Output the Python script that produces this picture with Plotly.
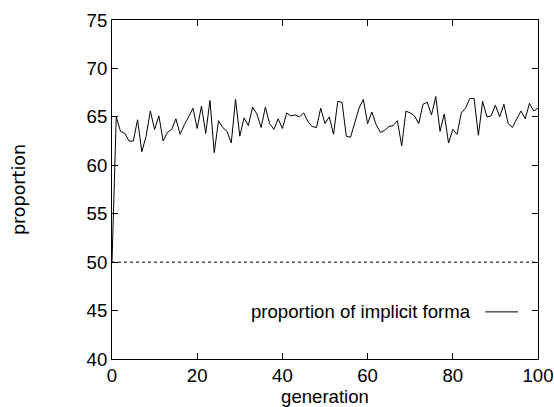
import plotly.graph_objects as go

generation = list(range(0, 101))
proportion = [
    50.0, 65.0, 63.5, 63.3, 62.5, 62.5, 64.7, 61.4, 63.0, 65.6,
    63.7, 65.1, 62.5, 63.4, 63.7, 64.8, 63.2, 64.2, 65.0, 65.9,
    63.8, 66.1, 63.3, 66.7, 61.3, 64.6, 63.9, 63.5, 62.3, 66.8,
    63.0, 64.9, 64.1, 66.0, 65.3, 63.9, 66.0, 64.3, 63.7, 64.8,
    63.8, 65.4, 65.1, 65.2, 65.0, 65.4, 64.5, 64.0, 63.9, 65.9,
    64.3, 65.0, 63.2, 66.6, 66.5, 63.0, 62.9, 64.5, 65.9, 66.8,
    64.3, 65.5, 64.2, 63.4, 63.6, 64.0, 64.1, 64.6, 62.0, 65.6,
    65.4, 65.1, 64.3, 66.3, 66.5, 65.2, 67.1, 63.5, 65.3, 62.3,
    63.7, 63.2, 65.4, 65.9, 66.9, 66.9, 63.1, 66.6, 65.0, 65.1,
    66.2, 65.0, 66.3, 64.3, 63.9, 64.8, 65.6, 64.8, 66.4, 65.6,
    65.9,
]
baseline = 50
x_ticks = [0, 20, 40, 60, 80, 100]
y_ticks = [40, 45, 50, 55, 60, 65, 70, 75]
legend_label = "proportion of implicit forma"

FONT = "Liberation Sans, Arial, Helvetica, sans-serif"
FS = 18.6

fig = go.Figure()
fig.add_trace(go.Scatter(
    x=generation, y=proportion, mode="lines",
    line=dict(color="black", width=1),
    showlegend=False, hoverinfo="skip",
))

fig.add_shape(type="line", xref="x", yref="y", x0=0, x1=100, y0=baseline, y1=baseline,
              line=dict(color="black", width=1, dash="dot"))

# key (gnuplot style: text then line sample)
fig.add_annotation(xref="paper", yref="paper", x=0.847, y=0.139, xanchor="right", yanchor="middle",
                   text=legend_label, showarrow=False, font=dict(family=FONT, size=FS, color="black"))
fig.add_shape(type="line", xref="paper", yref="paper", x0=0.876, x1=0.953, y0=0.139, y1=0.139,
              line=dict(color="black", width=1))

axis_common = dict(
    showline=True, linecolor="black", linewidth=1, mirror="ticks",
    ticks="inside", ticklen=6, tickcolor="black", tickwidth=1,
    showgrid=False, zeroline=False, automargin=False,
    tickfont=dict(family=FONT, size=FS, color="black"),
)

fig.update_xaxes(range=[0, 100], tickvals=x_ticks, ticktext=[str(v) for v in x_ticks],
                 title=dict(text="generation", font=dict(family=FONT, size=FS, color="black"), standoff=4),
                 **axis_common)
fig.update_yaxes(range=[40, 75], tickvals=y_ticks, ticktext=[str(v) for v in y_ticks],
                 title=dict(text="proportion", font=dict(family="DejaVu Sans, sans-serif", size=17.5, color="black"),
                            standoff=56),
                 **axis_common)

fig.update_layout(
    width=554, height=407,
    margin=dict(l=112, r=16, t=20, b=48),
    paper_bgcolor="white", plot_bgcolor="white",
    font=dict(family=FONT, size=FS, color="black"),
)

fig.write_html("out.html")
